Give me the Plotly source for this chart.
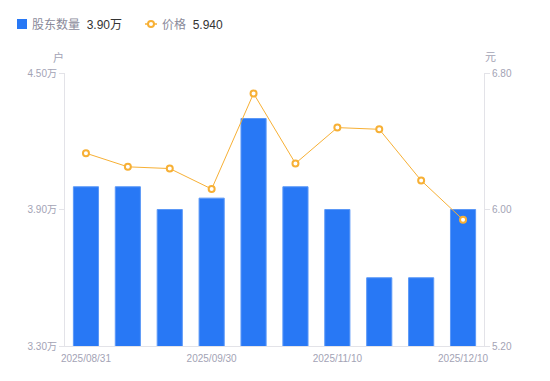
import plotly.graph_objects as go

dates = ["2025/08/31", "2025/09/10", "2025/09/20", "2025/09/30", "2025/10/20",
         "2025/10/31", "2025/11/10", "2025/11/20", "2025/11/30", "2025/12/10"]
holders = [4.00, 4.00, 3.90, 3.95, 4.30, 4.00, 3.90, 3.60, 3.60, 3.90]  # 万户
prices = [6.33, 6.25, 6.24, 6.12, 6.68, 6.27, 6.48, 6.47, 6.17, 5.94]
x_ticks = ["2025/08/31", "2025/09/30", "2025/11/10", "2025/12/10"]
left_ticks = [3.30, 3.90, 4.50]
right_ticks = [5.20, 6.00, 6.80]

BLUE = "#2878f5"
ORANGE = "#f7b035"
GRAY = "#a3a3b5"
FONT = "Liberation Sans, Arial, Noto Sans CJK SC, sans-serif"

fig = go.Figure()
fig.add_trace(go.Bar(x=dates, y=holders, marker=dict(color=BLUE, line=dict(color="#5b98f7", width=1)),
                     width=0.6, base=0, yaxis="y", showlegend=False))
fig.add_trace(go.Scatter(x=dates, y=prices, mode="lines+markers", yaxis="y2",
                         line=dict(color=ORANGE, width=1),
                         marker=dict(symbol="circle", size=6, color="white",
                                     line=dict(color=ORANGE, width=2)),
                         showlegend=False))

fig.update_layout(
    width=542, height=373,
    margin=dict(l=57, r=66, t=65, b=35),
    paper_bgcolor="white", plot_bgcolor="white",
    font=dict(family=FONT, size=10, color=GRAY),
    xaxis=dict(type="category", tickmode="array", tickvals=x_ticks, ticktext=x_ticks,
               range=[-0.5, len(dates) - 0.5],
               showline=True, linecolor="#e3e3e8", linewidth=1,
               ticks="outside", ticklen=3, tickcolor="rgba(0,0,0,0)",
               showgrid=False, tickfont=dict(size=10, color=GRAY)),
    yaxis=dict(range=[3.30, 4.50], tickmode="array", tickvals=left_ticks,
               ticktext=[f"{v:.2f}万" for v in left_ticks],
               showline=True, linecolor="#e3e3e8", linewidth=1, ticks="outside",
               ticklen=5, tickcolor="#e3e3e8", showgrid=False, zeroline=False,
               tickfont=dict(size=10, color=GRAY)),
    yaxis2=dict(range=[5.20, 6.80], tickmode="array", tickvals=right_ticks,
                ticktext=[f"{v:.2f}" for v in right_ticks], overlaying="y", side="right",
                showline=True, linecolor="#e3e3e8", linewidth=1, ticks="outside",
                ticklen=5, tickcolor="#e3e3e8", showgrid=False, zeroline=False,
                tickfont=dict(size=10, color=GRAY)),
)

def px(v):
    return (v - 65) / 419

def py(v):
    return (346 - v) / 273

# axis unit labels
fig.add_annotation(text="户", xref="paper", yref="paper", x=px(58), y=py(57),
                   showarrow=False, font=dict(size=11, color=GRAY), xanchor="center", yanchor="middle")
fig.add_annotation(text="元", xref="paper", yref="paper", x=px(490), y=py(57),
                   showarrow=False, font=dict(size=11, color=GRAY), xanchor="center", yanchor="middle")

# custom legend (top)
fig.add_shape(type="rect", xref="paper", yref="paper", x0=px(17), x1=px(27), y0=py(29), y1=py(19),
              fillcolor=BLUE, line=dict(width=0))
fig.add_annotation(text=f"股东数量  <span style='color:#333333'>{holders[-1]:.2f}万</span>",
                   xref="paper", yref="paper", x=px(30), y=py(24.5), showarrow=False,
                   xanchor="left", yanchor="middle", font=dict(size=12, color="#8a8a9a"))
fig.add_shape(type="line", xref="paper", yref="paper", x0=px(145), x1=px(157), y0=py(24), y1=py(24),
              line=dict(color=ORANGE, width=1.5))
fig.add_shape(type="circle", xref="paper", yref="paper", xsizemode="pixel", ysizemode="pixel",
              xanchor=px(151), yanchor=py(24), x0=-3, x1=3, y0=-3, y1=3,
              fillcolor="white", line=dict(color=ORANGE, width=2))
fig.add_annotation(text=f"价格  <span style='color:#333333'>{prices[-1]:.3f}</span>",
                   xref="paper", yref="paper", x=px(160), y=py(24.5), showarrow=False,
                   xanchor="left", yanchor="middle", font=dict(size=12, color="#8a8a9a"))

fig.write_html("out.html")
